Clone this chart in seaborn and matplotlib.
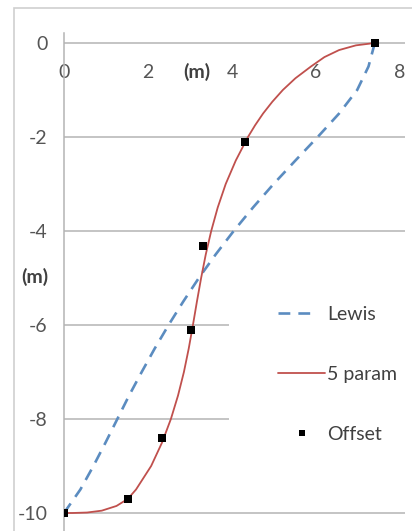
import matplotlib
matplotlib.use("Agg")
import matplotlib.pyplot as plt
from matplotlib.lines import Line2D
from matplotlib.patches import Rectangle
import seaborn as sns
import pandas as pd

# Section offsets (half-breadth x, depth y) in metres
offset_x = [7.40, 4.31, 3.31, 3.02, 2.33, 1.52, 0.00]
offset_y = [0.00, -2.11, -4.32, -6.11, -8.40, -9.70, -10.00]

# Lewis form section contour
lewis_x = [7.40, 7.25, 6.98, 6.55, 6.04, 5.51, 4.99, 4.50, 4.04, 3.61, 3.21,
           2.84, 2.49, 2.16, 1.85, 1.55, 1.27, 0.99, 0.70, 0.39, 0.00]
lewis_y = [0.00, -0.50, -1.00, -1.50, -2.00, -2.50, -3.00, -3.50, -4.00, -4.50, -5.00,
           -5.50, -6.00, -6.50, -7.00, -7.50, -8.00, -8.50, -9.00, -9.50, -10.00]

# Five-parameter section contour
param5_x = [7.40, 6.95, 6.55, 6.20, 5.88, 5.51, 5.21, 4.96, 4.74, 4.55, 4.38,
            4.09, 3.85, 3.66, 3.505, 3.375, 3.265, 3.165, 3.07, 2.97, 2.855,
            2.715, 2.545, 2.335, 2.075, 1.715, 1.52, 1.25, 0.90, 0.55, 0.20, 0.00]
param5_y = [0.00, -0.05, -0.15, -0.30, -0.50, -0.75, -1.00, -1.25, -1.50, -1.75, -2.00,
            -2.50, -3.00, -3.50, -4.00, -4.50, -5.00, -5.50, -6.00, -6.50, -7.00,
            -7.50, -8.00, -8.50, -9.00, -9.50, -9.70, -9.85, -9.95, -9.99, -10.00, -10.00]

x_ticks = [0, 2, 4, 6, 8]
y_ticks = [0, -2, -4, -6, -8, -10]
legend_labels = ["Lewis", "5 param", "Offset"]

BLUE = "#5b8cc0"
RED = "#c0504d"
GRID = "#b4b4b4"
TEXT = "#555555"
FS = 14

sns.set_theme(style="white")
plt.rcParams["font.family"] = ["Lato", "DejaVu Sans"]
plt.rcParams["lines.scale_dashes"] = False

W, H = 412, 531
fig = plt.figure(figsize=(W / 100, H / 100), dpi=100)

def fx(px):
    return px / W

def fy(py):
    return 1 - py / H

# axes: x=0 at px 64, 42 px/unit; y=0 at px 43, 47 px/unit
ymax, ymin = 0.21, -10.38
xmin, xmax = 0.0, 8.12
ax = fig.add_axes([fx(64), fy(43 - ymax * 47) - (ymax - ymin) * 47 / H,
                   (xmax - xmin) * 42 / W, (ymax - ymin) * 47 / H])
ax.set_xlim(xmin, xmax)
ax.set_ylim(ymin, ymax)
ax.set_facecolor("none")

# chart-area border
fig.patches.append(Rectangle((fx(13.5), fy(H + 5)), 2, (H + 5 - 7.5) / H,
                             transform=fig.transFigure, fill=False,
                             edgecolor="#cfcfcf", linewidth=1.2, zorder=0))

# horizontal gridlines
ax.yaxis.grid(True, color=GRID, linewidth=1.1)
ax.xaxis.grid(False)

lewis = pd.DataFrame({"x": lewis_x, "y": lewis_y})
param5 = pd.DataFrame({"x": param5_x, "y": param5_y})
offsets = pd.DataFrame({"x": offset_x, "y": offset_y})

sns.lineplot(data=lewis, x="x", y="y", sort=False, estimator=None, ax=ax,
             color=BLUE, linewidth=1.9, linestyle=(0, (8.5, 5.8)), zorder=3)
sns.lineplot(data=param5, x="x", y="y", sort=False, estimator=None, ax=ax,
             color=RED, linewidth=1.3, zorder=4)
sns.scatterplot(data=offsets, x="x", y="y", ax=ax, marker="s", s=38,
                color="black", edgecolor="none", zorder=5)

ax.set_xlabel("")
ax.set_ylabel("")

# x axis drawn along y=0 with upward ticks, labels beneath
ax.spines["bottom"].set_position(("data", 0))
ax.spines["bottom"].set_visible(False)
ax.spines["top"].set_visible(False)
ax.spines["right"].set_visible(False)
ax.spines["left"].set_color(GRID)
ax.spines["left"].set_linewidth(1.1)
ax.set_xticks(x_ticks)
ax.set_yticks(y_ticks)
ax.set_xticklabels([str(v) for v in x_ticks])
ax.set_yticklabels([str(v) for v in y_ticks])
ax.tick_params(axis="x", direction="in", length=6, width=1.0, color=GRID,
               pad=15, labelsize=FS, labelcolor=TEXT)
ax.tick_params(axis="y", direction="out", length=4.5, width=1.0, color=GRID,
               pad=7.5, labelsize=FS, labelcolor=TEXT)

# axis titles
fig.text(fx(197), fy(72), "(m)", ha="center", va="center", fontsize=FS,
         fontweight="bold", color="#404040")
fig.text(fx(35), fy(277), "(m)", ha="center", va="center", fontsize=FS,
         fontweight="bold", color="#404040")

handles = [
    Line2D([], [], color=BLUE, linewidth=1.9, linestyle=(0, (8.5, 5.8, 8.5, 40))),
    Line2D([], [], color=RED, linewidth=1.3),
    Line2D([], [], color="black", linestyle="none", marker="s", markersize=4.5,
           markeredgewidth=0),
]
leg = ax.legend(handles=handles, labels=legend_labels, loc="upper left",
                bbox_to_anchor=(fx(229), fy(257)), bbox_transform=fig.transFigure,
                frameon=True, fontsize=FS, borderpad=2.52, handlelength=2.42,
                handletextpad=0.1, labelspacing=2.2, borderaxespad=0)
leg.get_frame().set_facecolor("white")
leg.get_frame().set_edgecolor("none")
leg.get_frame().set_alpha(1)
for t in leg.get_texts():
    t.set_color("#404040")

fig.savefig("out.png", dpi=100)
